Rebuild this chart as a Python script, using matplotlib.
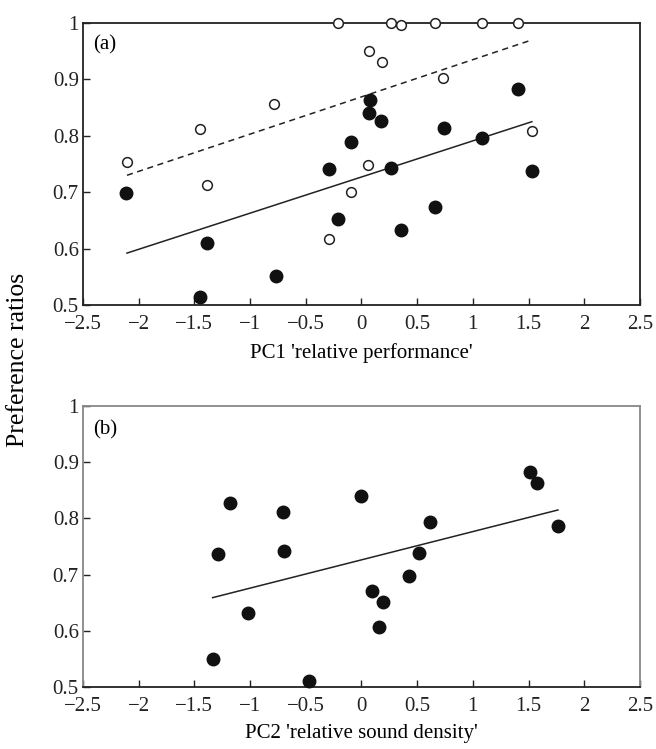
import matplotlib.pyplot as plt

plt.rcParams['font.family'] = ['Liberation Serif', 'DejaVu Serif']

# panel (a): PC1 'relative performance'
a_filled_x = [-2.11, -1.45, -1.39, -0.77, -0.29, -0.21, -0.09, 0.076, 0.067, 0.175,
              0.265, 0.355, 0.66, 0.74, 1.08, 1.405, 1.53]
a_filled_y = [0.699, 0.514, 0.610, 0.551, 0.741, 0.652, 0.789, 0.863, 0.840, 0.827,
              0.743, 0.633, 0.674, 0.814, 0.796, 0.883, 0.737]
a_open_x = [-2.105, -1.45, -1.39, -0.785, -0.29, -0.094, -0.21, 0.265, 0.355, 0.66,
            1.08, 1.405, 0.067, 0.184, 0.73, 0.058, 1.53]
a_open_y = [0.753, 0.812, 0.713, 0.856, 0.617, 0.700, 1.0, 1.0, 0.996, 1.0,
            1.0, 1.0, 0.950, 0.930, 0.903, 0.749, 0.808]
a_solid_x = [-2.105, 1.53]
a_solid_y = [0.592, 0.825]
a_dash_x = [-2.105, 1.53]
a_dash_y = [0.730, 0.970]

# panel (b): PC2 'relative sound density'
b_x = [-1.18, -1.29, -0.70, -0.696, -1.02, -1.33, -0.47, 0.0, 0.615, 0.516,
       0.426, 0.094, 0.193, 0.157, 1.51, 1.58, 1.76]
b_y = [0.827, 0.736, 0.811, 0.742, 0.632, 0.550, 0.511, 0.839, 0.794, 0.739,
       0.697, 0.671, 0.652, 0.607, 0.883, 0.863, 0.787]
b_line_x = [-1.336, 1.764]
b_line_y = [0.659, 0.815]

xticks = [-2.5, -2, -1.5, -1, -0.5, 0, 0.5, 1, 1.5, 2, 2.5]
xticklabels = ['\u22122.5', '\u22122', '\u22121.5', '\u22121', '\u22120.5', '0', '0.5', '1', '1.5', '2', '2.5']
yticks = [0.5, 0.6, 0.7, 0.8, 0.9, 1.0]
yticklabels = ['0.5', '0.6', '0.7', '0.8', '0.9', '1']

fig = plt.figure(figsize=(6.56, 7.49), dpi=100)
ax1 = fig.add_axes([0.1265, 0.5928, 0.849, 0.3765])
ax2 = fig.add_axes([0.1265, 0.0828, 0.849, 0.3751])


def style(ax, spine_col):
    ax.set_xlim(-2.5, 2.5)
    ax.set_ylim(0.5, 1.0)
    ax.set_xticks(xticks)
    ax.set_xticklabels(xticklabels)
    ax.set_yticks(yticks)
    ax.set_yticklabels(yticklabels)
    ax.tick_params(direction='in', length=5, width=1, labelsize=15,
                   colors='#222222')
    ax.tick_params(axis='x', pad=7)
    ax.tick_params(axis='y', pad=3)
    for lab in ax.get_yticklabels():
        lab.set_verticalalignment('center_baseline')
    for s in ['top', 'right', 'left']:
        ax.spines[s].set_color(spine_col)
        ax.spines[s].set_linewidth(1.3)
    ax.spines['bottom'].set_color('#222222')
    ax.spines['bottom'].set_linewidth(1.3)


style(ax1, '#222222')
ax1.plot(a_dash_x, a_dash_y, color='#222222', lw=1.1, ls=(0, (4, 3)))
ax1.plot(a_solid_x, a_solid_y, color='#222222', lw=1.1)
ax1.plot(a_open_x, a_open_y, 'o', ms=7, mfc='white', mec='#222222', mew=1.1,
         clip_on=False, zorder=5)
ax1.plot(a_filled_x, a_filled_y, 'o', ms=9, color='#111111', clip_on=False, zorder=6)
ax1.text(0.018, 0.922, '(a)', transform=ax1.transAxes, fontsize=15, va='center')
ax1.set_xlabel("PC1 'relative performance'", fontsize=15, labelpad=7)

style(ax2, '#888888')
ax2.plot(b_line_x, b_line_y, color='#222222', lw=1.1)
ax2.plot(b_x, b_y, 'o', ms=9, color='#111111', clip_on=False, zorder=6)
ax2.text(0.018, 0.915, '(b)', transform=ax2.transAxes, fontsize=15, va='center')
ax2.set_xlabel("PC2 'relative sound density'", fontsize=15, labelpad=6)

fig.text(0.027, 0.519, 'Preference ratios', rotation=90, fontsize=18.5,
         ha='center', va='center')

fig.savefig('out.png', dpi=100)
